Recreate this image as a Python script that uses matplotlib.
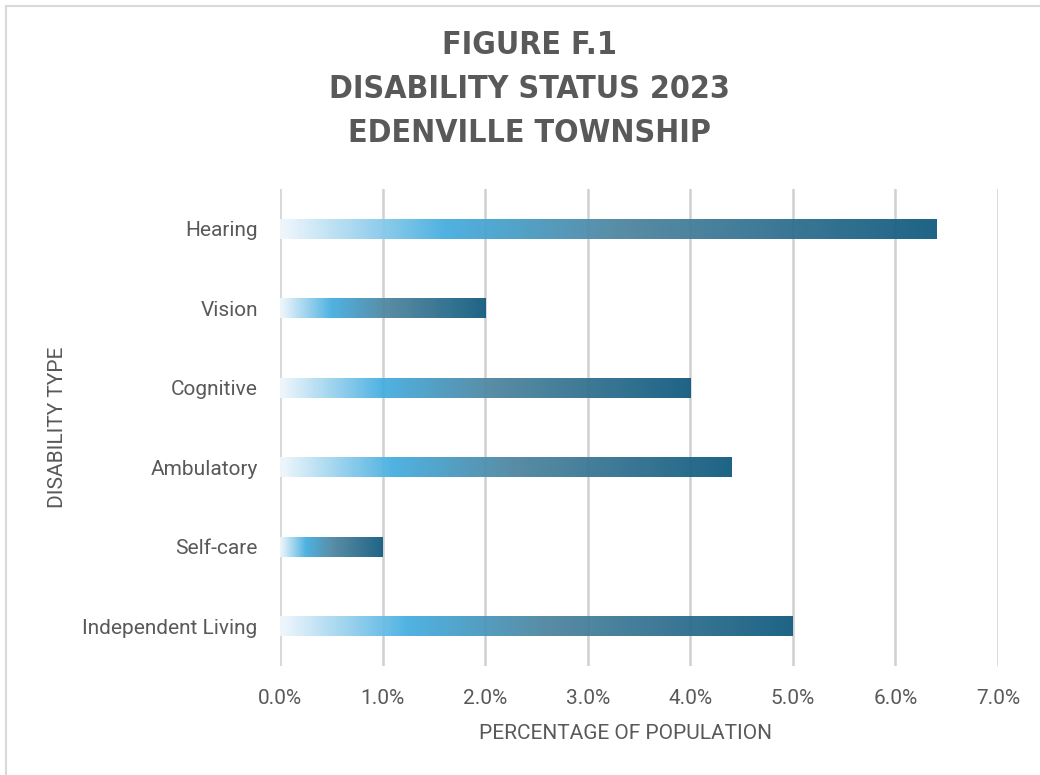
import numpy as np
import matplotlib
matplotlib.use("Agg")
import matplotlib.pyplot as plt
from matplotlib.colors import LinearSegmentedColormap
from matplotlib.ticker import PercentFormatter
from matplotlib.lines import Line2D

categories = ["Hearing", "Vision", "Cognitive", "Ambulatory", "Self-care", "Independent Living"]
values = [6.4, 2.0, 4.0, 4.4, 1.0, 5.0]
x_ticks = [0, 1, 2, 3, 4, 5, 6, 7]

title_lines = ["FIGURE F.1", "DISABILITY STATUS 2023", "EDENVILLE TOWNSHIP"]

GRAY_TEXT = "#595959"
GRID = "#D0D0D0"

bar_cmap = LinearSegmentedColormap.from_list(
    "bar_grad",
    [(0.0, "#F0F7FC"), (0.25, "#46AEE0"), (0.52, "#5086A0"), (1.0, "#135C80")],
)

fig = plt.figure(figsize=(10.4, 7.75), dpi=100)
ax = fig.add_axes([0.2692, 0.141, 0.6904, 0.6148])

n = len(categories)
ypos = np.arange(n)[::-1]  # first category at top
bar_h = 0.25
grad = np.linspace(0, 1, 256).reshape(1, -1)

for y, v in zip(ypos, values):
    ax.imshow(grad, cmap=bar_cmap, aspect="auto", interpolation="bilinear",
              extent=[0, v, y - bar_h / 2, y + bar_h / 2], zorder=3, alpha=0.95)

ax.set_xlim(0, 7)
ax.set_ylim(-0.5, n - 0.5)
ax.set_xticks(x_ticks)
ax.xaxis.set_major_formatter(PercentFormatter(decimals=1))
ax.set_yticks(ypos)
ax.set_yticklabels(categories)

for x in x_ticks:
    ax.axvline(x, color="#D9D9D9" if x == 0 else GRID, lw=2.2 if x == 0 else 1.8, zorder=1)

for s in ax.spines.values():
    s.set_visible(False)
ax.tick_params(axis="both", length=0, colors=GRAY_TEXT, labelsize=15)
ax.tick_params(axis="x", pad=17)
ax.tick_params(axis="y", pad=16)
for lab in ax.get_xticklabels() + ax.get_yticklabels():
    lab.set_fontfamily("Roboto")
    lab.set_color(GRAY_TEXT)

ax.set_xlabel("PERCENTAGE OF POPULATION", fontsize=15, color=GRAY_TEXT,
              family="Roboto")
ax.set_ylabel("DISABILITY TYPE", fontsize=15, color=GRAY_TEXT,
              family="Roboto")
ax.xaxis.set_label_coords(0.50 - 13 / 718, -68 / 476)
ax.yaxis.set_label_coords(-222 / 718, 0.5)
ax.xaxis.label.set_va("center")
ax.yaxis.label.set_va("center")

title_y = [1 - 46 / 775, 1 - 89 / 775, 1 - 133 / 775]
for txt, yy in zip(title_lines, title_y):
    fig.text(0.509, yy, txt, ha="center", va="center", fontsize=23,
             fontweight="bold", fontstretch="condensed", color=GRAY_TEXT,
             family="DejaVu Sans")

# chart frame
fig.add_artist(Line2D([6 / 1040, 6 / 1040], [0, 1 - 6 / 775], transform=fig.transFigure,
                      color="#D9D9D9", lw=1.5))
fig.add_artist(Line2D([6 / 1040, 1], [1 - 6 / 775, 1 - 6 / 775], transform=fig.transFigure,
                      color="#D9D9D9", lw=1.5))

fig.savefig("out.png", dpi=100, facecolor="white")
